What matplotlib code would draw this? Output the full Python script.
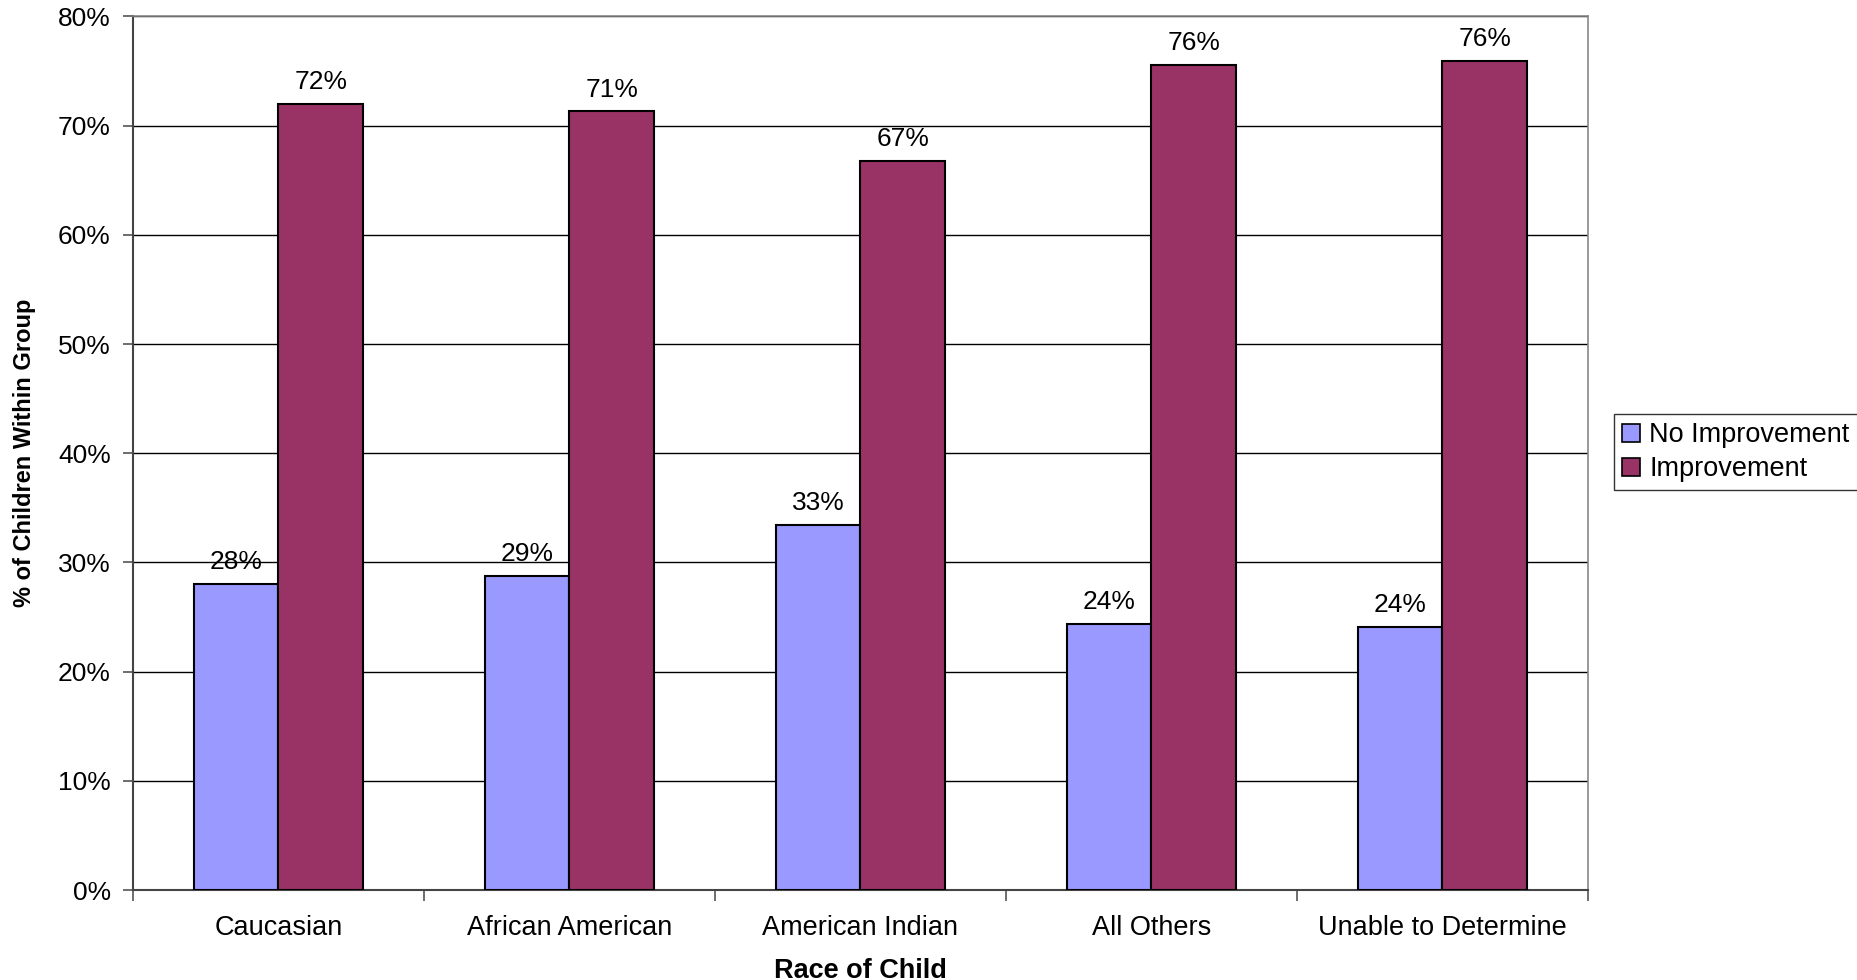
import matplotlib
matplotlib.use("Agg")
import matplotlib.pyplot as plt
import numpy as np
from matplotlib.patches import Patch

plt.rcParams['font.family'] = ['Liberation Sans', 'DejaVu Sans']

categories = ["Caucasian", "African American", "American Indian", "All Others", "Unable to Determine"]
no_improvement = [28.0, 28.8, 33.4, 24.4, 24.1]
improvement = [72.0, 71.3, 66.8, 75.6, 75.9]
series_names = ["No Improvement", "Improvement"]
colors = ["#9999FF", "#993366"]
yticks = [0, 10, 20, 30, 40, 50, 60, 70, 80]

W, H = 1858, 980
fig = plt.figure(figsize=(W / 100, H / 100), dpi=100)
ax = fig.add_axes([133 / W, 1 - 890 / H, (1588 - 133) / W, (890 - 16.5) / H])

x = np.arange(len(categories))
bw = 0.29
for vals, col, off in [(no_improvement, colors[0], -bw / 2), (improvement, colors[1], bw / 2)]:
    bars = ax.bar(x + off, vals, width=bw, color=col, edgecolor="black", linewidth=1.5, zorder=3)
    for b, v in zip(bars, vals):
        ax.text(b.get_x() + b.get_width() / 2, v + 0.9, f"{round(v):d}%",
                ha="center", va="bottom", fontsize=19, zorder=4)

ax.set_xlim(-0.5, len(categories) - 0.5)
ax.set_ylim(0, 80)
ax.set_yticks(yticks)
ax.set_yticklabels([f"{t}%" for t in yticks], fontsize=19)
ax.yaxis.grid(True, color="black", linewidth=1.0, zorder=0)
ax.set_axisbelow(True)

ax.set_xticks(np.arange(len(categories) + 1) - 0.5, minor=False)
ax.set_xticklabels([])
ax.set_xticks(x, minor=True)
ax.set_xticklabels(categories, minor=True, fontsize=19.5)
ax.tick_params(axis="x", which="minor", length=0, pad=18)
ax.tick_params(axis="x", which="major", length=8, width=1.2, color="#555555", direction="out")
ax.tick_params(axis="y", length=7, width=1.2, color="#555555", direction="out", pad=9)

for s in ["left", "bottom"]:
    ax.spines[s].set_color("#444444")
    ax.spines[s].set_linewidth(1.5)
for s in ["top", "right"]:
    ax.spines[s].set_color("#888888")
    ax.spines[s].set_linewidth(1.2)

ax.set_xlabel("Race of Child", fontsize=19.5, fontweight="bold", labelpad=12)
ax.set_ylabel("% of Children Within Group", fontsize=17, fontweight="bold", labelpad=16)

handles = [Patch(facecolor=c, edgecolor="black", linewidth=1.2) for c in colors]
leg = fig.legend(handles, series_names, loc="upper left",
                 bbox_to_anchor=(1614 / W, 1 - 414 / H), fontsize=19.5,
                 frameon=True, fancybox=False, edgecolor="black",
                 handlelength=0.65, handleheight=0.65, handletextpad=0.35,
                 borderpad=0.3, labelspacing=0.3, borderaxespad=0)
leg.get_frame().set_linewidth(1.0)

fig.savefig("out.png", dpi=100, facecolor="white")
